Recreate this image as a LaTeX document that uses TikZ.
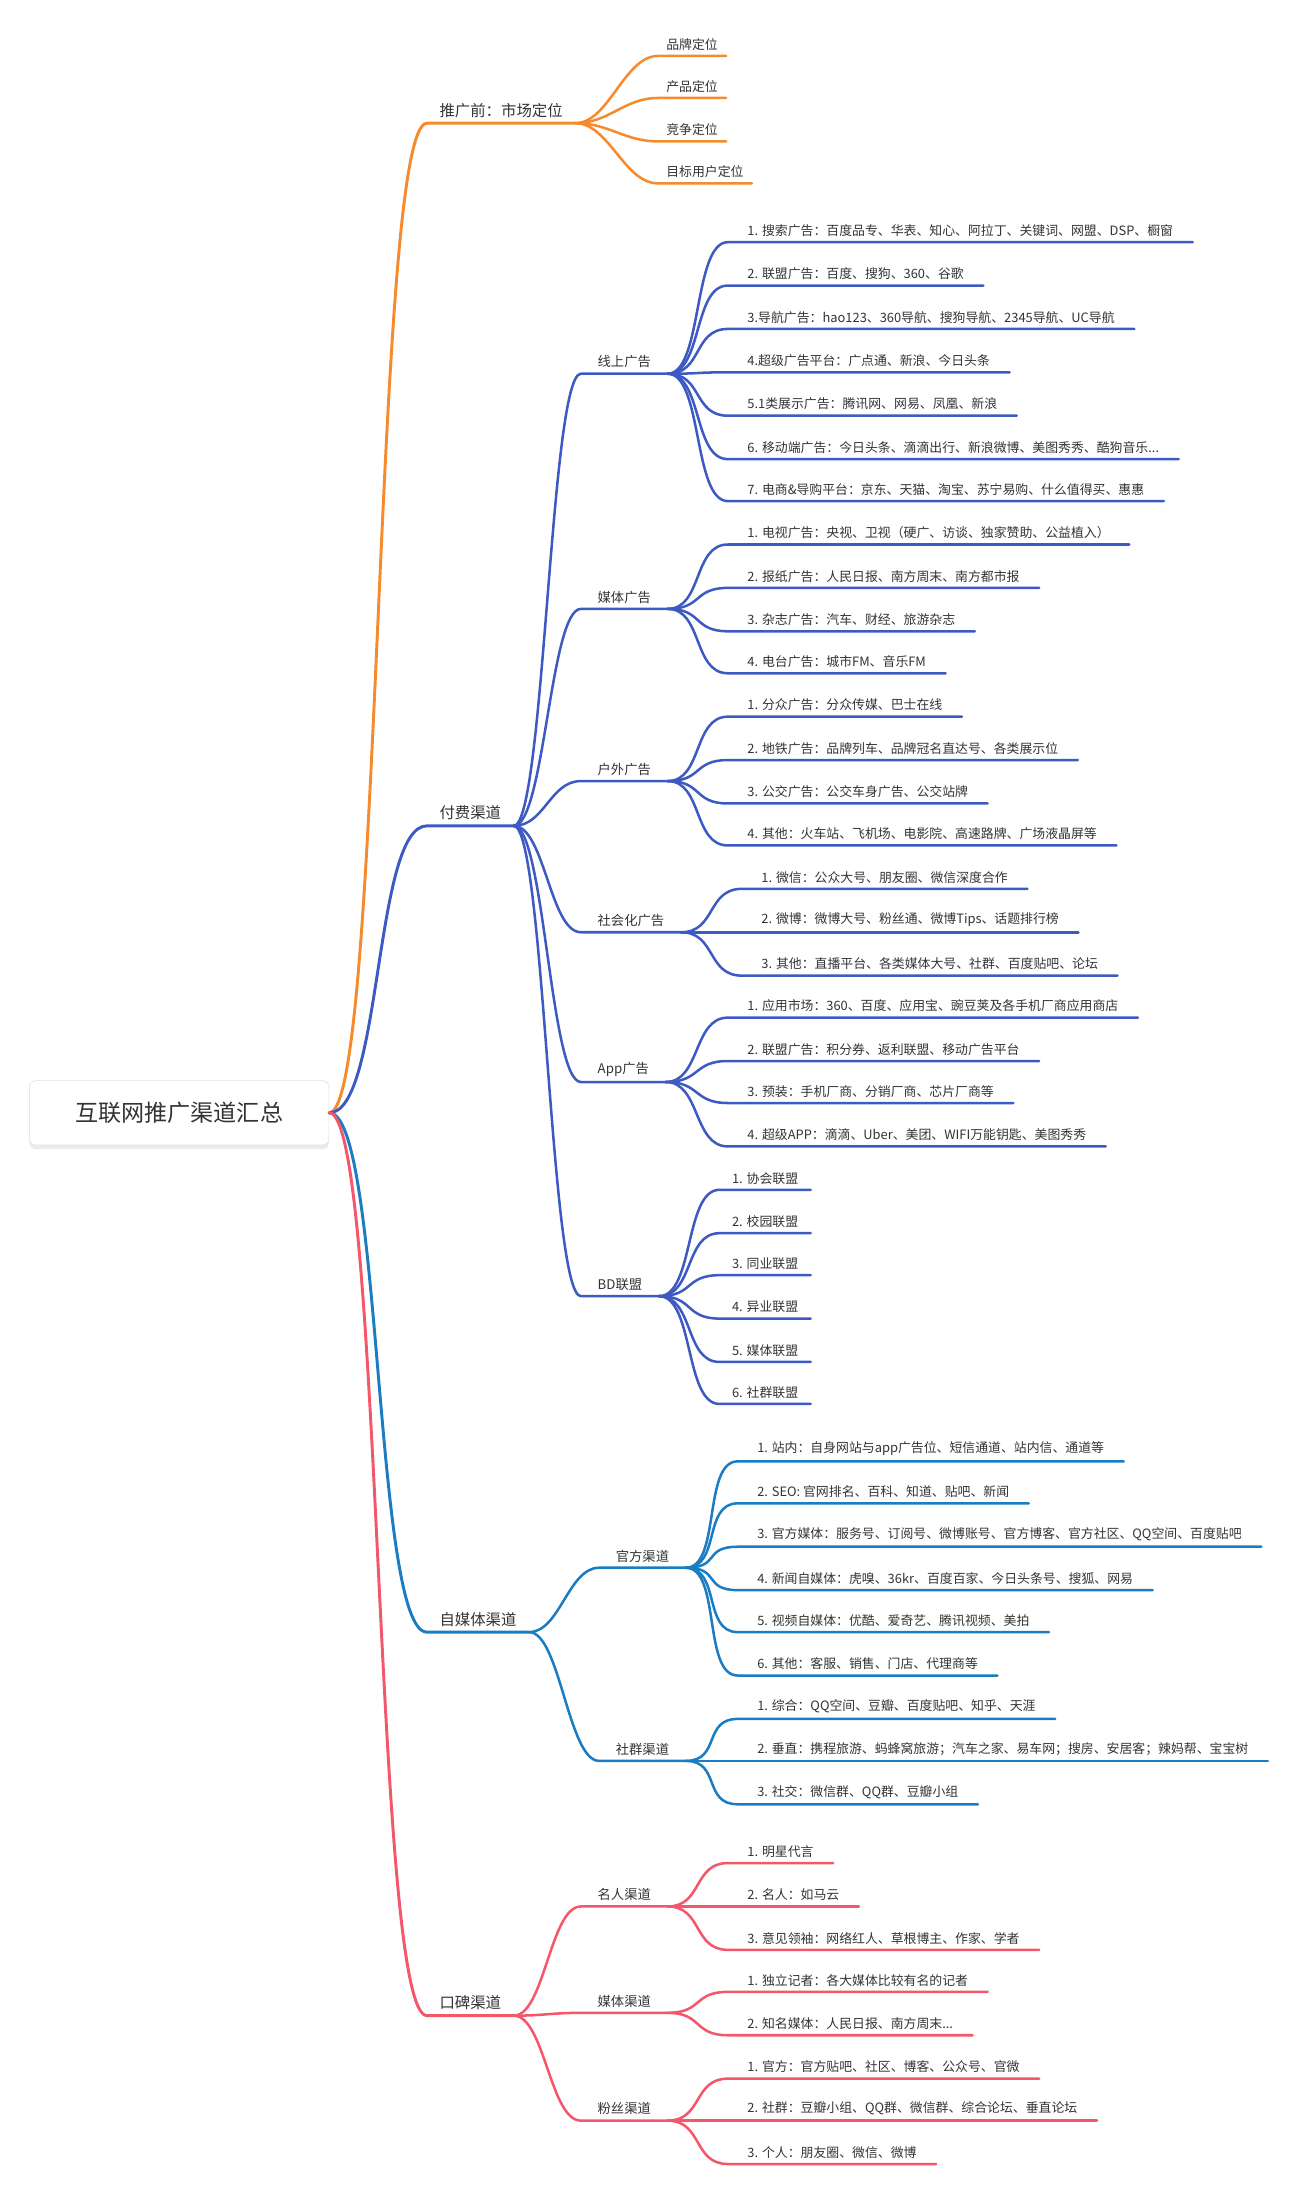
\documentclass[tikz,border=0pt]{standalone}
\usepackage{fontspec}
\setmainfont{Noto Sans CJK SC}
\definecolor{pre}{HTML}{F68B2E}
\definecolor{pay}{HTML}{3D5AC2}
\definecolor{own}{HTML}{1A7CC2}
\definecolor{word}{HTML}{F4566A}
\definecolor{ink}{HTML}{333333}
\tikzset{
  lvone/.style={text=ink, font=\fontsize{11}{13}\selectfont, inner xsep=9pt, inner ysep=4pt, outer sep=0pt},
  lvtwo/.style={text=ink, font=\fontsize{9.5}{11}\selectfont, inner xsep=12pt, inner ysep=4pt, outer sep=0pt},
  leaf/.style={text=ink, font=\fontsize{9.2}{11}\selectfont, inner xsep=14pt, inner ysep=4pt, outer sep=0pt},
  wire/.style={draw=cur, line width=1.8pt, line cap=round},
  trunk/.style={draw=cur, line width=2.1pt, line cap=round},
}
% parent, name, x, y, style, ctl, text
\newcommand{\twig}[7]{%
  \node[#5, anchor=south west] (#2) at (#3,#4) {#7};
  \draw[wire] (#1.south east) .. controls +(#6,0) and +(-#6,0) .. (#2.south west) -- (#2.south east);
}
\begin{document}
\begin{tikzpicture}[x=1pt, y=-1pt]
  \useasboundingbox (0,0) rectangle (930,1576);

  % root
  \fill[black!8, rounded corners=4pt] (21,775) rectangle (235,821);
  \node[draw=black!12, fill=white, rounded corners=4pt, minimum width=214pt, minimum height=46pt,
        text=ink, font=\fontsize{16.5}{18}\selectfont] (root) at (128,795) {互联网推广渠道汇总};

  % before promotion
  \begin{scope}
    \colorlet{cur}{pre}
    \node[lvone, anchor=south west] (mkt) at (305,88) {推广前：市场定位};
    \draw[trunk] (root.east) .. controls +(38,0) and +(-38,0) .. (mkt.south west) -- (mkt.south east);
    \twig{mkt}{brand}{470}{40}{leaf, inner xsep=6pt}{24}{品牌定位}
    \twig{mkt}{prod}{470}{70}{leaf, inner xsep=6pt}{24}{产品定位}
    \twig{mkt}{comp}{470}{101}{leaf, inner xsep=6pt}{24}{竞争定位}
    \twig{mkt}{user}{470}{131}{leaf, inner xsep=6pt}{24}{目标用户定位}
  \end{scope}

  % paid channels
  \begin{scope}
    \colorlet{cur}{pay}
    \node[lvone, anchor=south west] (paid) at (305,590) {付费渠道};
    \draw[trunk] (root.east) .. controls +(38,0) and +(-38,0) .. (paid.south west) -- (paid.south east);

    \twig{paid}{online}{415}{267}{lvtwo}{22}{线上广告}
    \twig{online}{on1}{520}{173}{leaf}{25}{1. 搜索广告：百度品专、华表、知心、阿拉丁、关键词、网盟、DSP、橱窗}
    \twig{online}{on2}{520}{204}{leaf}{25}{2. 联盟广告：百度、搜狗、360、谷歌}
    \twig{online}{on3}{520}{235}{leaf}{25}{3.导航广告：hao123、360导航、搜狗导航、2345导航、UC导航}
    \twig{online}{on4}{520}{266}{leaf}{25}{4.超级广告平台：广点通、新浪、今日头条}
    \twig{online}{on5}{520}{297}{leaf}{25}{5.1类展示广告：腾讯网、网易、凤凰、新浪}
    \twig{online}{on6}{520}{328}{leaf}{25}{6. 移动端广告：今日头条、滴滴出行、新浪微博、美图秀秀、酷狗音乐...}
    \twig{online}{on7}{520}{358}{leaf}{25}{7. 电商\&导购平台：京东、天猫、淘宝、苏宁易购、什么值得买、惠惠}

    \twig{paid}{media}{415}{435}{lvtwo}{22}{媒体广告}
    \twig{media}{md1}{520}{389}{leaf}{25}{1. 电视广告：央视、卫视（硬广、访谈、独家赞助、公益植入）}
    \twig{media}{md2}{520}{420}{leaf}{25}{2. 报纸广告：人民日报、南方周末、南方都市报}
    \twig{media}{md3}{520}{451}{leaf}{25}{3. 杂志广告：汽车、财经、旅游杂志}
    \twig{media}{md4}{520}{481}{leaf}{25}{4. 电台广告：城市FM、音乐FM}

    \twig{paid}{outdoor}{415}{558}{lvtwo}{22}{户外广告}
    \twig{outdoor}{od1}{520}{512}{leaf}{25}{1. 分众广告：分众传媒、巴士在线}
    \twig{outdoor}{od2}{520}{543}{leaf}{25}{2. 地铁广告：品牌列车、品牌冠名直达号、各类展示位}
    \twig{outdoor}{od3}{520}{574}{leaf}{25}{3. 公交广告：公交车身广告、公交站牌}
    \twig{outdoor}{od4}{520}{604}{leaf}{25}{4. 其他：火车站、飞机场、电影院、高速路牌、广场液晶屏等}

    \twig{paid}{social}{415}{666}{lvtwo}{22}{社会化广告}
    \twig{social}{so1}{530}{635}{leaf}{25}{1. 微信：公众大号、朋友圈、微信深度合作}
    \twig{social}{so2}{530}{666}{leaf}{25}{2. 微博：微博大号、粉丝通、微博Tips、话题排行榜}
    \twig{social}{so3}{530}{697}{leaf}{25}{3. 其他：直播平台、各类媒体大号、社群、百度贴吧、论坛}

    \twig{paid}{app}{415}{773}{lvtwo}{22}{App广告}
    \twig{app}{ap1}{520}{727}{leaf}{25}{1. 应用市场：360、百度、应用宝、豌豆荚及各手机厂商应用商店}
    \twig{app}{ap2}{520}{758}{leaf}{25}{2. 联盟广告：积分券、返利联盟、移动广告平台}
    \twig{app}{ap3}{520}{788}{leaf}{25}{3. 预装：手机厂商、分销厂商、芯片厂商等}
    \twig{app}{ap4}{520}{819}{leaf}{25}{4. 超级APP：滴滴、Uber、美团、WIFI万能钥匙、美图秀秀}

    \twig{paid}{bd}{415}{926}{lvtwo}{22}{BD联盟}
    \twig{bd}{bd1}{514}{850}{leaf, inner xsep=9pt}{25}{1. 协会联盟}
    \twig{bd}{bd2}{514}{881}{leaf, inner xsep=9pt}{25}{2. 校园联盟}
    \twig{bd}{bd3}{514}{911}{leaf, inner xsep=9pt}{25}{3. 同业联盟}
    \twig{bd}{bd4}{514}{942}{leaf, inner xsep=9pt}{25}{4. 异业联盟}
    \twig{bd}{bd5}{514}{973}{leaf, inner xsep=9pt}{25}{5. 媒体联盟}
    \twig{bd}{bd6}{514}{1003}{leaf, inner xsep=9pt}{25}{6. 社群联盟}
  \end{scope}

  % self media
  \begin{scope}
    \colorlet{cur}{own}
    \node[lvone, anchor=south west] (self) at (305,1166) {自媒体渠道};
    \draw[trunk] (root.east) .. controls +(38,0) and +(-38,0) .. (self.south west) -- (self.south east);

    \twig{self}{offic}{428}{1120}{lvtwo}{22}{官方渠道}
    \twig{offic}{of1}{527}{1044}{leaf}{25}{1. 站内：自身网站与app广告位、短信通道、站内信、通道等}
    \twig{offic}{of2}{527}{1074}{leaf}{25}{2. SEO: 官网排名、百科、知道、贴吧、新闻}
    \twig{offic}{of3}{527}{1105}{leaf}{25}{3. 官方媒体：服务号、订阅号、微博账号、官方博客、官方社区、QQ空间、百度贴吧}
    \twig{offic}{of4}{527}{1136}{leaf}{25}{4. 新闻自媒体：虎嗅、36kr、百度百家、今日头条号、搜狐、网易}
    \twig{offic}{of5}{527}{1166}{leaf}{25}{5. 视频自媒体：优酷、爱奇艺、腾讯视频、美拍}
    \twig{offic}{of6}{527}{1197}{leaf}{25}{6. 其他：客服、销售、门店、代理商等}

    \twig{self}{group}{428}{1258}{lvtwo}{22}{社群渠道}
    \twig{group}{gr1}{527}{1228}{leaf}{25}{1. 综合：QQ空间、豆瓣、百度贴吧、知乎、天涯}
    \twig{group}{gr2}{527}{1258}{leaf}{25}{2. 垂直：携程旅游、蚂蜂窝旅游；汽车之家、易车网；搜房、安居客；辣妈帮、宝宝树}
    \twig{group}{gr3}{527}{1289}{leaf}{25}{3. 社交：微信群、QQ群、豆瓣小组}
  \end{scope}

  % word of mouth
  \begin{scope}
    \colorlet{cur}{word}
    \node[lvone, anchor=south west] (mouth) at (305,1440) {口碑渠道};
    \draw[trunk] (root.east) .. controls +(38,0) and +(-38,0) .. (mouth.south west) -- (mouth.south east);

    \twig{mouth}{star}{415}{1362}{lvtwo}{22}{名人渠道}
    \twig{star}{st1}{520}{1331}{leaf}{25}{1. 明星代言}
    \twig{star}{st2}{520}{1362}{leaf}{25}{2. 名人：如马云}
    \twig{star}{st3}{520}{1393}{leaf}{25}{3. 意见领袖：网络红人、草根博主、作家、学者}

    \twig{mouth}{press}{415}{1438}{lvtwo}{22}{媒体渠道}
    \twig{press}{pr1}{520}{1423}{leaf}{25}{1. 独立记者：各大媒体比较有名的记者}
    \twig{press}{pr2}{520}{1454}{leaf}{25}{2. 知名媒体：人民日报、南方周末...}

    \twig{mouth}{fans}{415}{1515}{lvtwo}{22}{粉丝渠道}
    \twig{fans}{fa1}{520}{1485}{leaf}{25}{1. 官方：官方贴吧、社区、博客、公众号、官微}
    \twig{fans}{fa2}{520}{1515}{leaf}{25}{2. 社群：豆瓣小组、QQ群、微信群、综合论坛、垂直论坛}
    \twig{fans}{fa3}{520}{1546}{leaf}{25}{3. 个人：朋友圈、微信、微博}
  \end{scope}
\end{tikzpicture}
\end{document}
